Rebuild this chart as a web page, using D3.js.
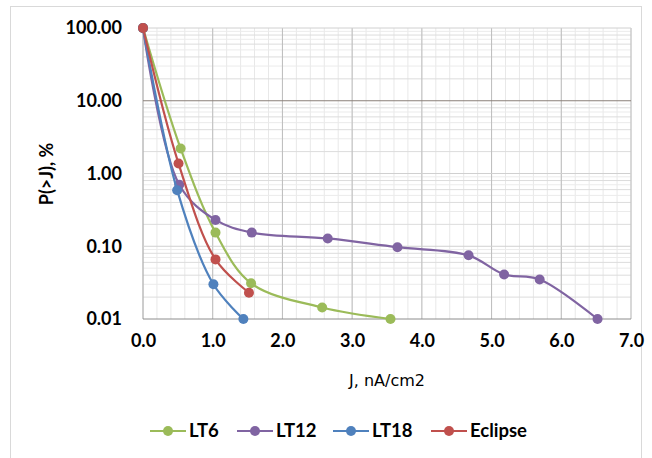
<!DOCTYPE html>
<html>
<head>
<meta charset="utf-8">
<script src="https://cdn.jsdelivr.net/npm/d3@7"></script>
<style>
  body { margin: 0; background: #fff; }
  svg { display: block; }
  .tick-label { font-family: Lato, "Open Sans", sans-serif; font-weight: bold; font-size: 18px; fill: #000; }
  .legend-label { font-family: Lato, "Open Sans", sans-serif; font-weight: bold; font-size: 18.5px; fill: #000; }
</style>
</head>
<body>
<div id="chart"></div>
<script>
// Series data: [J, P(>J)]
const seriesNames = ["LT6", "LT12", "LT18", "Eclipse"]
const seriesColors = ["#9bbb59", "#8064a2", "#4f81bd", "#c0504d"]
const lt6 = [[0, 100], [0.54, 2.2], [1.04, 0.154], [1.55, 0.031], [2.57, 0.0144], [3.55, 0.010]]
const lt12 = [[0, 100], [0.52, 0.70], [1.04, 0.23], [1.56, 0.154], [2.65, 0.128], [3.65, 0.097],
              [4.67, 0.075], [5.18, 0.041], [5.69, 0.035], [6.52, 0.010]]
const lt18 = [[0, 100], [0.49, 0.59], [1.01, 0.030], [1.44, 0.010]]
const eclipse = [[0, 100], [0.51, 1.37], [1.04, 0.066], [1.52, 0.023]]
const allSeries = [lt6, lt12, lt18, eclipse]

const xTicks = [0, 1, 2, 3, 4, 5, 6, 7]
const yTicks = [0.01, 0.1, 1, 10, 100]

const width = 652
const height = 458
const margin = {top: 28, right: 21, bottom: 139, left: 143}

const svg = d3.select("#chart").append("svg")
    .attr("width", width)
    .attr("height", height)

// outer chart border
svg.append("rect")
    .attr("x", 10.5).attr("y", 6.5)
    .attr("width", 631).attr("height", 460)
    .attr("fill", "none")
    .attr("stroke", "#d9d9d9")

const x = d3.scaleLinear().domain([0, 7]).range([margin.left, width - margin.right])
const y = d3.scaleLog().domain([0.01, 100]).range([height - margin.bottom, margin.top])

const grid = svg.append("g")

// minor vertical gridlines every 0.2
d3.range(0, 7.01, 0.2).forEach(function(v) {
  grid.append("line")
    .attr("x1", x(v)).attr("x2", x(v))
    .attr("y1", y(100)).attr("y2", y(0.01))
    .attr("stroke", "#e8e8e8")
})

// minor horizontal gridlines on log subdivisions
yTicks.slice(0, -1).forEach(function(d) {
  for (let k = 2; k <= 9; k++) {
    grid.append("line")
      .attr("x1", x(0)).attr("x2", x(7))
      .attr("y1", y(d * k)).attr("y2", y(d * k))
      .attr("stroke", k % 2 == 0 ? "#dcdcdc" : "#ebebeb")
  }
})

// major vertical gridlines
xTicks.forEach(function(v) {
  grid.append("line")
    .attr("x1", x(v)).attr("x2", x(v))
    .attr("y1", y(100)).attr("y2", y(0.01))
    .attr("stroke", v == 0 ? "#a6a6a6" : "#bdbdbd")
})

// major horizontal gridlines
yTicks.forEach(function(v) {
  grid.append("line")
    .attr("x1", x(0)).attr("x2", x(7))
    .attr("y1", y(v)).attr("y2", y(v))
    .attr("stroke", v == 10 ? "#8a7f79" : (v == 0.01 ? "#8c8c8c" : "#d0d0d0"))
})

// axes labels (Excel-ish, no tick marks)
const xAxis = d3.axisBottom(x).tickValues(xTicks).tickSize(0).tickPadding(15)
    .tickFormat(d3.format(".1f"))
svg.append("g")
    .attr("transform", "translate(0," + y(0.01) + ")")
    .call(xAxis)
    .call(g => g.select(".domain").remove())
    .selectAll("text").attr("class", "tick-label").attr("font-size", null).attr("font-family", null)

const yAxis = d3.axisLeft(y).tickValues(yTicks).tickSize(0).tickPadding(21)
    .tickFormat(d3.format(".2f"))
svg.append("g")
    .attr("transform", "translate(" + x(0) + ",0)")
    .call(yAxis)
    .call(g => g.select(".domain").remove())
    .selectAll("text").attr("class", "tick-label").attr("font-size", null).attr("font-family", null)

// axis titles
svg.append("text")
    .attr("transform", "translate(53,174) rotate(-90)")
    .attr("text-anchor", "middle")
    .attr("font-family", "Lato, 'Open Sans', sans-serif")
    .attr("font-weight", "bold")
    .attr("font-size", 18)
    .text("P(>J), %")

svg.append("text")
    .attr("x", 387).attr("y", 386)
    .attr("text-anchor", "middle")
    .attr("font-family", "'DejaVu Sans', sans-serif")
    .attr("font-size", 16)
    .text("J, nA/cm2")

// series
const line = d3.line()
    .x(function(d) { return x(d[0]) })
    .y(function(d) { return y(d[1]) })
    .curve(d3.curveCatmullRom.alpha(0.5))

allSeries.forEach(function(data, i) {
  const g = svg.append("g")
  g.append("path")
    .datum(data)
    .attr("d", line)
    .attr("fill", "none")
    .attr("stroke", seriesColors[i])
    .attr("stroke-width", 2.2)
  g.selectAll("circle")
    .data(data)
    .enter().append("circle")
    .attr("cx", function(d) { return x(d[0]) })
    .attr("cy", function(d) { return y(d[1]) })
    .attr("r", 5)
    .attr("fill", seriesColors[i])
})

// legend
const legendX = [150, 237, 333, 431]
const legend = svg.append("g").attr("transform", "translate(0,431)")
seriesNames.forEach(function(name, i) {
  const item = legend.append("g").attr("transform", "translate(" + legendX[i] + ",0)")
  item.append("line")
    .attr("x1", 0).attr("x2", 36)
    .attr("stroke", seriesColors[i])
    .attr("stroke-width", 2.2)
  item.append("circle")
    .attr("cx", 18).attr("r", 5)
    .attr("fill", seriesColors[i])
  item.append("text")
    .attr("class", "legend-label")
    .attr("x", 39)
    .attr("dy", "0.35em")
    .text(name)
})
</script>
</body>
</html>
